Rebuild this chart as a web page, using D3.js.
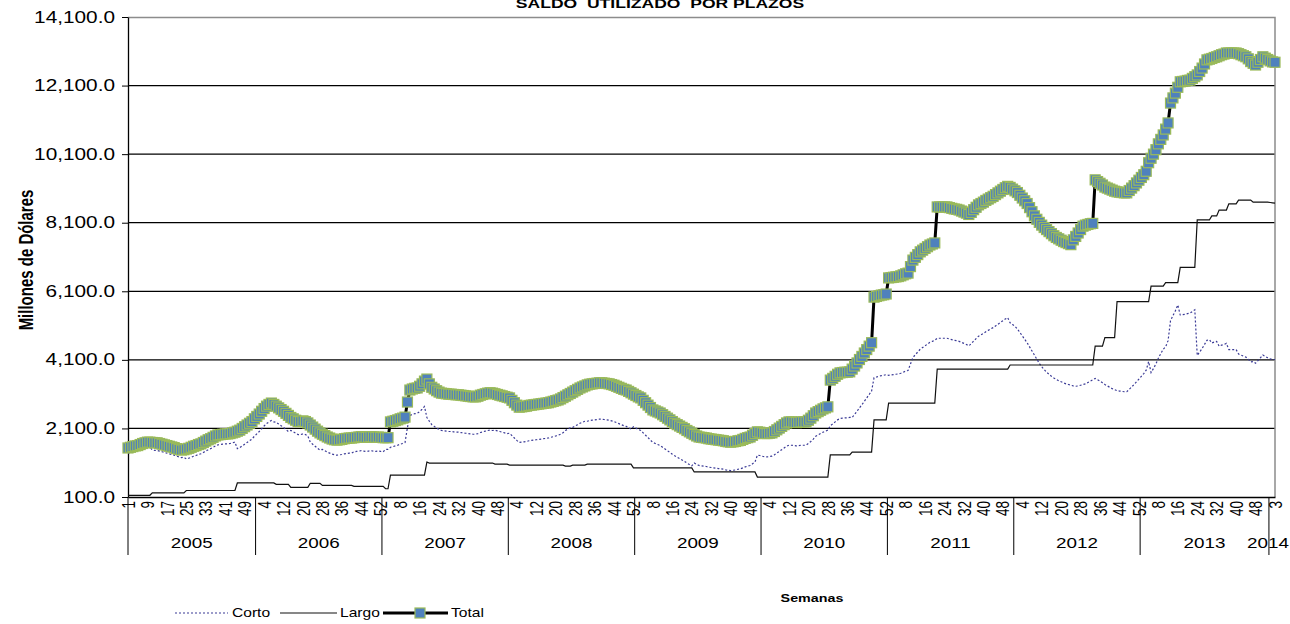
<!DOCTYPE html>
<html>
<head>
<meta charset="utf-8">
<title>Saldo utilizado por plazos</title>
<script src="https://cdn.jsdelivr.net/npm/d3@7"></script>
<style>
  body { margin: 0; background: #fff; }
  text { font-family: "Liberation Sans", Arial, sans-serif; fill: #000; }
  .grid line { stroke: #000; stroke-width: 1.2; }
</style>
</head>
<body>
<div id="chart"></div>
<script>
// weekly categories, grouped by year
const years = [2005, 2006, 2007, 2008, 2009, 2010, 2011, 2012, 2013, 2014];
const weeksPerYear = [53, 52, 52, 52, 52, 52, 52, 52, 53, 3];
const yTicks = [100, 2100, 4100, 6100, 8100, 10100, 12100, 14100];

// millones de dólares, one value per week
const total = [
  // 2005
  1530,1550,1570,1590,1600,1630,1660,1680,1700,1700,1690,1680,1680,1660,1640,1620,1600,1580,1560,1540,
  1510,1490,1470,1480,1500,1520,1550,1580,1600,1630,1650,1690,1730,1770,1800,1840,1880,1910,1920,1930,
  1940,1940,1950,1970,1990,2020,2050,2100,2150,2200,2250,2300,2380,
  // 2006
  2450,2520,2600,2680,2750,2800,2840,2800,2750,2700,2650,2600,2540,2480,2420,2380,2340,2300,2300,2320,
  2300,2260,2200,2140,2080,2020,1970,1930,1890,1850,1820,1790,1770,1760,1770,1780,1800,1810,1820,1820,
  1830,1840,1850,1860,1850,1840,1850,1860,1850,1840,1850,1840,
  // 2007
  1830,1830,1830,2290,2310,2330,2350,2380,2400,2430,2870,3220,3250,3270,3280,3330,3400,3480,3540,3400,
  3300,3250,3200,3160,3130,3120,3110,3100,3100,3090,3080,3080,3070,3060,3050,3040,3030,3020,3020,3040,
  3070,3090,3110,3130,3140,3130,3110,3090,3070,3050,3030,3010,
  // 2008
  2990,2920,2850,2780,2720,2730,2740,2750,2770,2780,2790,2800,2810,2820,2830,2840,2850,2870,2890,2910,
  2930,2960,3000,3040,3080,3120,3160,3200,3240,3280,3310,3340,3370,3390,3400,3410,3420,3430,3430,3420,
  3410,3400,3380,3360,3330,3300,3270,3240,3220,3180,3140,3100,
  // 2009
  3060,3020,2990,2920,2850,2780,2710,2640,2610,2580,2550,2500,2450,2400,2350,2300,2250,2210,2170,2130,
  2090,2040,2000,1960,1920,1880,1850,1840,1830,1820,1800,1790,1780,1770,1760,1750,1740,1720,1710,1700,
  1710,1720,1740,1750,1780,1810,1830,1850,1900,1950,2000,1990,
  // 2010
  1970,1950,1950,1960,1970,2010,2060,2110,2160,2210,2260,2290,2290,2280,2270,2280,2290,2290,2290,2340,
  2400,2470,2550,2590,2630,2670,2700,2730,3510,3560,3620,3680,3720,3730,3740,3740,3750,3830,3920,4010,
  4110,4200,4300,4400,4500,4600,5930,5950,5970,5990,6000,6020,
  // 2011
  6490,6500,6510,6520,6530,6550,6580,6610,6630,6820,7010,7090,7170,7250,7300,7350,7400,7450,7480,7510,
  8560,8560,8560,8560,8560,8540,8520,8500,8490,8470,8440,8410,8380,8340,8400,8480,8550,8620,8660,8700,
  8750,8790,8830,8870,8920,8970,9020,9070,9120,9160,9130,9080,
  // 2012
  9030,8980,8900,8820,8740,8660,8540,8420,8300,8200,8110,8030,7960,7900,7840,7780,7720,7670,7630,7590,
  7550,7520,7490,7460,7600,7700,7800,7900,8000,8030,8050,8070,8080,9350,9300,9250,9200,9140,9110,9080,
  9050,9020,9000,8990,8980,8970,8970,9040,9110,9180,9260,9340,
  // 2013
  9420,9500,9600,9850,9980,10100,10230,10400,10530,10660,10830,11010,11590,11740,11880,12050,12210,12220,12230,12250,
  12260,12310,12360,12410,12510,12610,12730,12850,12870,12890,12920,12940,12970,13000,13020,13050,13050,13050,13050,13050,
  13030,13000,12970,12940,12880,12800,12750,12700,12780,12860,12940,12900,12860,
  // 2014
  12820,12790,12780
];

const largo = [
  // 2005
  150,150,150,150,150,150,150,150,150,150,220,220,220,220,220,220,220,220,220,220,
  220,220,220,220,290,290,290,290,290,290,290,290,290,290,290,290,290,290,290,290,
  290,290,290,290,290,510,510,510,510,510,510,510,510,
  // 2006
  510,510,510,510,510,510,510,510,470,470,470,470,470,470,380,380,380,380,380,380,
  380,380,500,500,500,500,500,440,440,440,440,440,440,440,440,440,440,440,440,440,
  410,410,410,410,410,410,410,410,410,410,410,410,
  // 2007
  410,340,340,740,740,740,740,740,740,740,740,740,740,740,740,740,740,740,1120,1090,
  1090,1090,1090,1090,1090,1090,1090,1090,1090,1090,1090,1090,1090,1090,1090,1090,1090,1090,1090,1090,
  1090,1090,1090,1090,1090,1090,1060,1060,1060,1060,1060,1060,
  // 2008
  1030,1030,1030,1030,1030,1030,1030,1030,1030,1030,1030,1030,1030,1030,1030,1030,1030,1030,1030,1030,
  1030,1030,1030,1000,1000,1000,1030,1030,1030,1030,1030,1030,1060,1060,1060,1060,1060,1060,1060,1060,
  1060,1060,1060,1060,1060,1060,1060,1060,1060,1060,1060,950,
  // 2009
  950,950,950,950,950,950,950,950,950,950,950,950,950,950,950,950,950,950,950,950,
  950,950,950,950,830,830,830,830,830,830,830,830,830,830,830,830,830,830,830,830,
  830,830,830,830,830,830,830,830,830,830,680,680,
  // 2010
  680,680,680,680,680,680,680,680,680,680,680,680,680,680,680,680,680,680,680,680,
  680,680,680,680,680,680,680,680,1330,1330,1330,1330,1330,1330,1330,1330,1330,1410,1410,1410,
  1410,1410,1410,1410,1410,1410,2350,2350,2350,2350,2350,2350,
  // 2011
  2840,2840,2840,2840,2840,2840,2840,2840,2840,2840,2840,2840,2840,2840,2840,2840,2840,2840,2840,2840,
  3830,3830,3830,3830,3830,3830,3830,3830,3830,3830,3830,3830,3830,3830,3830,3830,3830,3830,3830,3830,
  3830,3830,3830,3830,3830,3830,3830,3830,3830,3830,3950,3950,
  // 2012
  3950,3950,3950,3950,3950,3950,3950,3950,3950,3950,3950,3950,3950,3950,3950,3950,3950,3950,3950,3950,
  3950,3950,3950,3950,3950,3950,3950,3950,3950,3950,3950,3950,3950,4500,4500,4500,4500,4750,4750,4750,
  4750,4750,5800,5800,5800,5800,5800,5800,5800,5800,5800,5800,
  // 2013
  5800,5800,5800,5800,6250,6250,6250,6250,6250,6250,6350,6350,6350,6350,6350,6350,6800,6800,6800,6800,
  6800,6800,6800,8180,8180,8180,8180,8180,8180,8300,8300,8300,8470,8470,8470,8470,8650,8650,8650,8650,
  8760,8760,8760,8760,8760,8760,8700,8700,8700,8700,8700,8700,8700,
  // 2014
  8690,8680,8670
];

const corto = [
  // 2005
  1380,1400,1420,1440,1450,1480,1510,1530,1550,1550,1470,1460,1460,1440,1420,1400,1380,1360,1340,1320,
  1290,1270,1250,1260,1210,1230,1260,1290,1310,1340,1360,1400,1440,1480,1510,1550,1590,1620,1630,1640,
  1650,1650,1660,1680,1700,1510,1540,1590,1640,1690,1740,1790,1870,
  // 2006
  1940,2010,2090,2170,2240,2290,2330,2290,2280,2230,2180,2130,2070,2010,2040,2000,1960,1920,1920,1940,
  1920,1880,1700,1640,1580,1520,1470,1490,1450,1410,1380,1350,1330,1320,1330,1340,1360,1370,1380,1380,
  1420,1430,1440,1450,1440,1430,1440,1450,1440,1430,1440,1430,
  // 2007
  1420,1490,1490,1550,1570,1590,1610,1640,1660,1690,2130,2480,2510,2530,2540,2590,2660,2740,2420,2310,
  2210,2160,2110,2070,2040,2030,2020,2010,2010,2000,1990,1990,1980,1970,1960,1950,1940,1930,1930,1950,
  1980,2000,2020,2040,2050,2040,2050,2030,2010,1990,1970,1950,
  // 2008
  1960,1890,1820,1750,1690,1700,1710,1720,1740,1750,1760,1770,1780,1790,1800,1810,1820,1840,1860,1880,
  1900,1930,1970,2040,2080,2120,2130,2170,2210,2250,2280,2310,2310,2330,2340,2350,2360,2370,2370,2360,
  2350,2340,2320,2300,2270,2240,2210,2180,2160,2120,2080,2150,
  // 2009
  2110,2070,2040,1970,1900,1830,1760,1690,1660,1630,1600,1550,1500,1450,1400,1350,1300,1260,1220,1180,
  1140,1090,1050,1010,1090,1050,1020,1010,1000,990,970,960,950,940,930,920,910,890,880,870,
  880,890,910,920,950,980,1000,1020,1070,1120,1320,1310,
  // 2010
  1290,1270,1270,1280,1290,1330,1380,1430,1480,1530,1580,1610,1610,1600,1590,1600,1610,1610,1610,1660,
  1720,1790,1870,1910,1950,1990,2020,2050,2180,2230,2290,2350,2390,2400,2410,2410,2420,2420,2510,2600,
  2700,2790,2890,2990,3090,3190,3580,3600,3620,3640,3650,3670,
  // 2011
  3650,3660,3670,3680,3690,3710,3740,3770,3790,3980,4170,4250,4330,4410,4460,4510,4560,4610,4640,4670,
  4730,4730,4730,4730,4730,4710,4690,4670,4660,4640,4610,4580,4550,4510,4570,4650,4720,4790,4830,4870,
  4920,4960,5000,5040,5090,5140,5190,5240,5290,5330,5180,5130,
  // 2012
  5080,5000,4900,4800,4700,4600,4480,4360,4240,4120,4000,3900,3820,3740,3680,3620,3570,3530,3490,3460,
  3430,3400,3380,3360,3340,3330,3340,3360,3380,3400,3440,3480,3520,3560,3520,3480,3430,3380,3340,3300,
  3260,3230,3200,3190,3180,3170,3170,3240,3310,3380,3460,3540,
  // 2013
  3620,3700,3800,4050,3730,3850,3980,4150,4280,4410,4480,4660,5240,5390,5530,5700,5410,5420,5430,5450,
  5460,5510,5560,4230,4330,4430,4550,4670,4690,4590,4620,4640,4500,4530,4550,4580,4400,4400,4400,4400,
  4270,4240,4210,4180,4120,4040,4050,4000,4080,4160,4240,4200,4160,
  // 2014
  4130,4110,4110
];

// build the (year, week) category list
const cats = [];
const yearStart = [];
years.forEach((yr, k) => {
  yearStart.push(cats.length);
  for (let w = 1; w <= weeksPerYear[k]; w++) cats.push({year: yr, week: w});
});

const W = 1290, H = 624;
const margin = {top: 17, right: 15, bottom: 127, left: 128};
const width = W - margin.left - margin.right;
const height = H - margin.top - margin.bottom;
const SX = 1.3; // the reference picture is stretched sideways, text too

const svg = d3.select("#chart").append("svg")
  .attr("width", W)
  .attr("height", H);

const g = svg.append("g")
  .attr("transform", `translate(${margin.left},${margin.top})`);

const x = d3.scaleLinear().domain([0, cats.length - 1]).range([0, width]);
const y = d3.scaleLinear().domain([100, 14100]).range([height, 0]);

// gridlines
g.append("g")
  .attr("class", "grid")
  .selectAll("line")
  .data(yTicks.slice(1, -1))
  .join("line")
  .attr("x1", 0).attr("x2", width)
  .attr("y1", d => y(d)).attr("y2", d => y(d));

// plot frame top / right
g.append("path")
  .attr("d", `M0,0.5H${width}V${height}`)
  .attr("fill", "none")
  .attr("stroke", "#8c8c8c")
  .attr("stroke-width", 1.5);

// y axis
const yAxis = g.append("g")
  .call(d3.axisLeft(y).tickValues(yTicks).tickFormat(d3.format(",.1f")).tickSize(6).tickSizeOuter(0));
yAxis.select(".domain").attr("stroke", "#000").attr("stroke-width", 1.3);
yAxis.selectAll("line").attr("stroke", "#000");
yAxis.selectAll("text")
  .attr("x", null)
  .attr("transform", `translate(-13,0) scale(${SX},1)`)
  .style("font-size", "16px");

// x axis, week labels every 8 weeks
const xAxis = g.append("g")
  .attr("transform", `translate(0,${height})`)
  .call(d3.axisBottom(x).tickValues(d3.range(0, cats.length, 8)).tickFormat(i => cats[i].week).tickSize(0).tickSizeOuter(0));
xAxis.select(".domain").attr("stroke", "#000").attr("stroke-width", 1.3);
xAxis.selectAll("text")
  .attr("y", null)
  .attr("dy", "0.35em")
  .attr("text-anchor", "end")
  .attr("transform", `translate(0,4) scale(${SX},1) rotate(-90)`)
  .style("font-size", "13.5px");

// year groups
const yearEdges = yearStart.map((s, k) => k === 0 ? 0 : x(s - 0.5));
const yearG = g.append("g").attr("transform", `translate(0,${height})`);
yearG.selectAll("line")
  .data(yearEdges)
  .join("line")
  .attr("x1", d => d).attr("x2", d => d)
  .attr("y1", 0).attr("y2", 58)
  .attr("stroke", "#000");
yearG.selectAll("text")
  .data(years)
  .join("text")
  .attr("text-anchor", "middle")
  .attr("transform", (d, k) => {
    const last = k === years.length - 1;
    const cx = last ? yearEdges[k] - 1 : (yearEdges[k] + yearEdges[k + 1]) / 2;
    return `translate(${cx},51) scale(${SX},1)`;
  })
  .style("font-size", "14.5px")
  .text(d => d);

// series
const line = d3.line().x((d, i) => x(i)).y(d => y(d));

g.append("path")
  .attr("d", line(corto))
  .attr("fill", "none")
  .attr("stroke", "#3a3a96")
  .attr("stroke-width", 1.2)
  .attr("stroke-dasharray", "2,2");

g.append("path")
  .attr("d", line(largo))
  .attr("fill", "none")
  .attr("stroke", "#111")
  .attr("stroke-width", 1.2);

g.append("path")
  .attr("d", line(total))
  .attr("fill", "none")
  .attr("stroke", "#000")
  .attr("stroke-width", 3);

g.append("g")
  .selectAll("rect")
  .data(total)
  .join("rect")
  .attr("x", (d, i) => x(i) - 5)
  .attr("y", d => y(d) - 5)
  .attr("width", 10)
  .attr("height", 10)
  .attr("fill", "#4f81bd")
  .attr("stroke", "#9bbb59")
  .attr("stroke-width", 1.2);

// titles
svg.append("text")
  .attr("text-anchor", "middle")
  .attr("transform", `translate(660,8) scale(${SX},1)`)
  .style("font-size", "13.5px")
  .style("font-weight", "bold")
  .style("white-space", "pre")
  .text("SALDO  UTILIZADO  POR PLAZOS");

svg.append("text")
  .attr("text-anchor", "middle")
  .attr("dy", "0.35em")
  .attr("transform", `translate(26,260) scale(${SX},1) rotate(-90)`)
  .style("font-size", "15px")
  .style("font-weight", "bold")
  .text("Millones de Dólares");

svg.append("text")
  .attr("text-anchor", "middle")
  .attr("transform", `translate(812,602) scale(${SX},1)`)
  .style("font-size", "11px")
  .style("font-weight", "bold")
  .text("Semanas");

// legend
const legend = svg.append("g").attr("transform", "translate(0,613)");
legend.append("line").attr("x1", 175).attr("x2", 228).attr("stroke", "#3a3a96").attr("stroke-width", 1.2).attr("stroke-dasharray", "2,2");
legend.append("line").attr("x1", 280).attr("x2", 337).attr("stroke", "#111").attr("stroke-width", 1.2);
legend.append("line").attr("x1", 383).attr("x2", 448).attr("stroke", "#000").attr("stroke-width", 3);
legend.append("rect").attr("x", 415).attr("y", -5).attr("width", 10).attr("height", 10)
  .attr("fill", "#4f81bd").attr("stroke", "#9bbb59").attr("stroke-width", 1.2);
[["Corto", 232], ["Largo", 340], ["Total", 451]].forEach(([t, px]) => {
  legend.append("text")
    .attr("dy", "0.35em")
    .attr("transform", `translate(${px},0) scale(${SX},1)`)
    .style("font-size", "12px")
    .text(t);
});
</script>
</body>
</html>
